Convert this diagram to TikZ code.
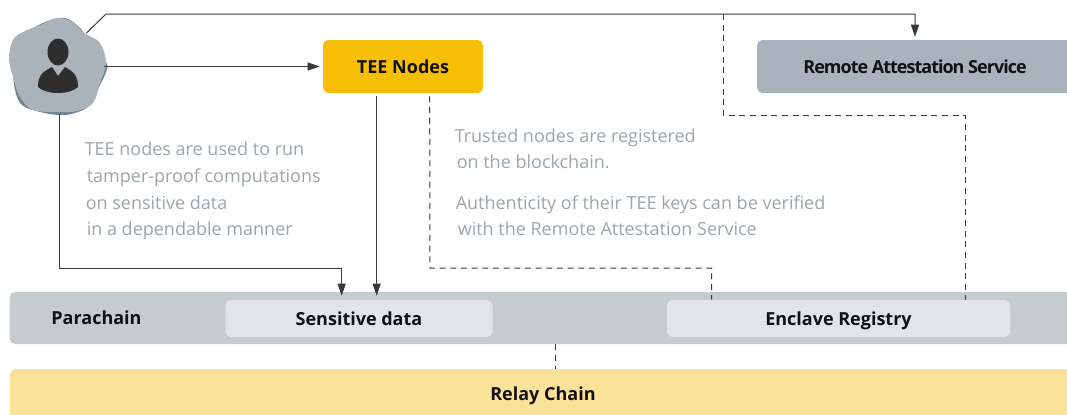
\documentclass[tikz,border=0pt]{standalone}
\usepackage{fontspec}
\setmainfont{Open Sans}
\usetikzlibrary{arrows.meta}
\definecolor{linec}{HTML}{3A3A3A}
\definecolor{greyt}{HTML}{9BA6AC}
\definecolor{blobb}{HTML}{6F8693}
\definecolor{blobf}{HTML}{AAB3BA}
\definecolor{rasc}{HTML}{AAB3BB}
\definecolor{parac}{HTML}{C4CCCF}
\definecolor{innerc}{HTML}{E1E5E8}
\definecolor{teec}{HTML}{F6BE05}
\definecolor{relayc}{HTML}{FAE29A}
\definecolor{ink}{HTML}{111111}
\tikzset{
  x=0.75pt,y=-0.75pt,
  boxn/.style={rectangle,rounded corners=4pt,inner sep=0pt,text depth=0pt,font=\fontsize{13.5}{16}\selectfont\bfseries,text=ink},
  noten/.style={anchor=base west,inner sep=0pt,font=\fontsize{13.5}{16}\selectfont,text=greyt},
  conn/.style={draw=linec,line width=0.75pt},
  connarrow/.style={conn,-{Triangle[length=9pt,width=6pt]}},
  dashline/.style={draw=linec,line width=0.75pt,dash pattern=on 4.5pt off 3.5pt},
}
\begin{document}
\begin{tikzpicture}
\useasboundingbox (0,0) rectangle (1067,414);
% blob and person
\fill[blobb] plot[smooth cycle,tension=0.6] coordinates {(60,18)(70,20)(82,30)(88,40)(106,62)(106,72)(100,85)(90,105)(75,113)(60,115)(40,112)(22,105)(15,90)(13,70)(13,42)(30,30)(45,22)};
\fill[blobf] plot[smooth cycle,tension=0.6] coordinates {(57,18)(72,22)(86,34)(100,43)(106,63)(100,83)(93,103)(77,111)(57,112)(33,110)(20,97)(13,77)(9,58)(13,40)(23,32)(40,25)};
\fill[linec!80!black] (58,52) ellipse [x radius=10.5,y radius=13.5];
\fill[linec!80!black] (38,87) .. controls (38,76) and (42,72) .. (52,67) -- (58,76) -- (65,67) .. controls (74,72) and (78,76) .. (78,87) .. controls (70,95) and (46,95) .. (38,87) -- cycle;
\node[circle,minimum size=70.5pt,inner sep=0pt] (user) at (57,66.5) {};
% boxes
\node[boxn,fill=teec,minimum width=120pt,minimum height=39.75pt] (tee) at (403,66.5) {TEE Nodes};
\node[boxn,fill=rasc,minimum width=237pt,minimum height=39.75pt] (ras) at (915,66.5) {\addfontfeature{LetterSpace=-5.5}Remote Attestation Service};
\node[boxn,fill=parac,minimum width=806pt,minimum height=39pt] (para) at (547,318) {};
\node[boxn,anchor=center] (paral) at (96.5,318) {Parachain};
\node[boxn,fill=innerc,minimum width=200.25pt,minimum height=27.75pt] (sens) at (359,318.5) {Sensitive data};
\node[boxn,fill=innerc,minimum width=257.25pt,minimum height=27.75pt] (encl) at (838.5,318.5) {Enclave Registry};
\node[boxn,fill=relayc,minimum width=799.5pt,minimum height=37.5pt] (relay) at (543,394) {Relay Chain};
% notes
\node[noten] (n1) at (84.5,155) {TEE nodes are used to run};
\node[noten] (n2) at (86.5,182) {tamper-proof computations};
\node[noten] (n3) at (85.5,209) {on sensitive data};
\node[noten] (n4) at (86.5,235) {in a dependable manner};
\node[noten] (n5) at (454.5,142) {Trusted nodes are registered};
\node[noten] (n6) at (456.5,168) {on the blockchain.};
\node[noten] (n7) at (455.5,209) {Authenticity of their TEE keys can be verified};
\node[noten] (n8) at (457.5,235) {with the Remote Attestation Service};
% connectors
\coordinate (top) at (106,14);
\coordinate (low) at (59,268);
\coordinate (dl) at (430,268);
\coordinate (du) at (723,115);
\coordinate (rc) at (555,0);
\draw[connarrow,shorten >=2.25pt] ([xshift=-3pt]user.45) -- (top) -- (top -| ras.north) -- (ras.north);
\draw[connarrow,shorten >=2.25pt] (user.east) -- (tee.west);
\draw[connarrow,shorten >=3pt] (user.south -| low) -- (low) -- ([xshift=-13pt]sens.north |- low) -- ([xshift=-13pt]sens.north);
\draw[connarrow,shorten >=3pt,shorten <=2.25pt] ([xshift=-19.75pt]tee.south) -- ([xshift=13.25pt]sens.north);
\draw[dashline,shorten <=2.25pt] ([xshift=20pt]tee.south) -- (dl) -- ([xshift=-95.25pt]encl.north |- dl) -- ([xshift=-95.25pt]encl.north);
\draw[dashline] (du |- top) -- (du) -- ([xshift=94.875pt]encl.north |- du) -- ([xshift=94.875pt]encl.north);
\draw[dashline] (para.south -| rc) -- (relay.north -| rc);
\end{tikzpicture}
\end{document}
